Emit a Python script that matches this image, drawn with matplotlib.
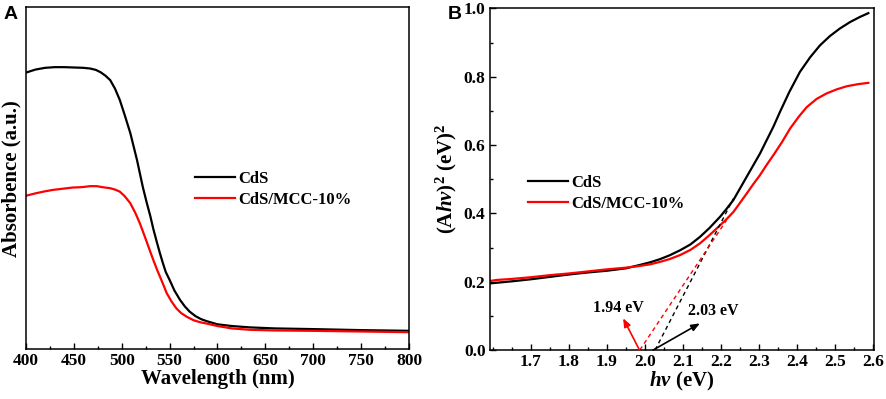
import numpy as np
import matplotlib
matplotlib.use("Agg")
import matplotlib.pyplot as plt
from matplotlib.ticker import MultipleLocator, FormatStrFormatter

plt.rcParams['font.family'] = ['Liberation Serif', 'DejaVu Serif']
plt.rcParams['font.weight'] = 'bold'
plt.rcParams['mathtext.fontset'] = 'custom'
plt.rcParams['mathtext.rm'] = 'Liberation Serif:bold'
plt.rcParams['mathtext.it'] = 'Liberation Serif:bold:italic'
plt.rcParams['mathtext.bf'] = 'Liberation Serif:bold'

# ---------------- Panel A data ----------------
wl_cds = [400, 410, 420, 430, 440, 450, 460, 467, 473, 478, 483, 488, 493, 498, 503, 509, 516, 522, 526,
          530, 533, 537, 540, 543, 546, 550, 555, 561, 566, 571, 577, 583, 589, 600, 615, 634, 660, 700,
          750, 800]
abs_cds = [0.809, 0.818, 0.823, 0.825, 0.825, 0.824, 0.823, 0.821, 0.817, 0.810, 0.800, 0.787, 0.762,
           0.729, 0.686, 0.632, 0.553, 0.475, 0.430, 0.388, 0.352, 0.310, 0.280, 0.252, 0.226, 0.203,
           0.172, 0.144, 0.125, 0.110, 0.097, 0.088, 0.082, 0.073, 0.068, 0.064, 0.061, 0.059, 0.056, 0.054]
wl_mcc = [400, 410, 420, 428, 440, 449, 458, 467, 474, 480, 488, 493, 498, 503, 509, 514, 519, 523, 526,
          530, 533, 537, 540, 544, 547, 552, 557, 562, 568, 575, 582, 589, 600, 615, 634, 660, 700, 750, 800]
abs_mcc = [0.449, 0.456, 0.462, 0.466, 0.470, 0.473, 0.474, 0.477, 0.477, 0.474, 0.471, 0.467, 0.461,
           0.448, 0.427, 0.400, 0.368, 0.338, 0.315, 0.284, 0.261, 0.232, 0.212, 0.185, 0.164, 0.140,
           0.120, 0.106, 0.095, 0.085, 0.079, 0.075, 0.068, 0.061, 0.057, 0.055, 0.054, 0.052, 0.050]

# ---------------- Panel B data ----------------
hv_cds = [1.593, 1.65, 1.7, 1.75, 1.8, 1.85, 1.9, 1.95, 1.987, 2.015, 2.04, 2.065, 2.093, 2.12, 2.145,
          2.17, 2.198, 2.215, 2.233, 2.25, 2.268, 2.285, 2.303, 2.32, 2.338, 2.356, 2.38, 2.408, 2.435,
          2.461, 2.487, 2.513, 2.54, 2.566, 2.588]
tauc_cds = [0.195, 0.201, 0.207, 0.214, 0.221, 0.227, 0.232, 0.239, 0.249, 0.257, 0.266, 0.277, 0.292,
            0.309, 0.331, 0.357, 0.390, 0.413, 0.439, 0.472, 0.507, 0.540, 0.575, 0.613, 0.653, 0.698,
            0.755, 0.814, 0.857, 0.892, 0.919, 0.941, 0.960, 0.975, 0.986]
hv_mcc = [1.593, 1.61, 1.65, 1.7, 1.75, 1.8, 1.85, 1.9, 1.95, 1.987, 2.015, 2.04, 2.065, 2.093, 2.12,
          2.145, 2.17, 2.198, 2.215, 2.233, 2.25, 2.268, 2.285, 2.303, 2.32, 2.338, 2.36, 2.382, 2.405,
          2.426, 2.452, 2.478, 2.505, 2.531, 2.56, 2.588]
tauc_mcc = [0.202, 0.205, 0.208, 0.213, 0.219, 0.224, 0.230, 0.236, 0.241, 0.246, 0.251, 0.258, 0.266,
            0.278, 0.293, 0.312, 0.336, 0.365, 0.383, 0.404, 0.430, 0.458, 0.485, 0.512, 0.541, 0.570,
            0.607, 0.648, 0.683, 0.711, 0.735, 0.751, 0.763, 0.772, 0.778, 0.782]

# tangent (extrapolation) lines
tan_cds_x = [2.027, 2.233]
tan_cds_y = [0.0, 0.443]
tan_mcc_x = [1.987, 2.215]
tan_mcc_y = [0.0, 0.38]

labels = ['CdS', 'CdS/MCC-10%']
gap_labels = ['1.94 eV', '2.03 eV']

fig = plt.figure(figsize=(8.86, 3.99), dpi=100)
axA = fig.add_axes([0.0293, 0.1246, 0.4323, 0.8571])
axB = fig.add_axes([0.5527, 0.1228, 0.4338, 0.8562])

lw = 1.6
for ax in (axA, axB):
    for s in ax.spines.values():
        s.set_linewidth(1.1)

TICK_FS = 12.5
LAB_FS = 15
LEG_FS = 12

# Panel A
axA.plot(wl_cds, abs_cds, color='black', lw=lw, label=labels[0])
axA.plot(wl_mcc, abs_mcc, color='#ff0000', lw=lw, label=labels[1])
axA.set_xlim(400, 800)
axA.set_ylim(0, 1)
axA.set_yticks([])
axA.xaxis.set_major_locator(MultipleLocator(50))
axA.xaxis.set_minor_locator(MultipleLocator(25))
axA.tick_params(axis='x', which='major', direction='in', length=4, width=1.0, labelsize=TICK_FS, pad=3)
axA.tick_params(axis='x', which='minor', direction='in', length=2.5, width=1.0)
axA.set_xlabel('Wavelength (nm)', fontsize=LAB_FS, fontweight='bold', labelpad=0)
axA.set_ylabel('Absorbence (a.u.)', fontsize=LAB_FS, fontweight='bold', labelpad=3)
legA = axA.legend(loc='center left', bbox_to_anchor=(0.441, 0.467), frameon=False, fontsize=LEG_FS,
                  handlelength=2.4, handletextpad=0.2, labelspacing=0.3, borderpad=0, borderaxespad=0)
for t in legA.get_texts():
    t.set_fontweight('bold')

# Panel B
axB.plot(hv_cds, tauc_cds, color='black', lw=lw, label=labels[0])
axB.plot(hv_mcc, tauc_mcc, color='#ff0000', lw=lw, label=labels[1])
axB.plot(tan_cds_x, tan_cds_y, color='black', lw=1.0, ls=(0, (3, 2.5)))
axB.plot(tan_mcc_x, tan_mcc_y, color='#ff0000', lw=1.0, ls=(0, (3, 2.5)))
axB.annotate('', xy=(1.943, 0.093), xytext=(1.986, 0.0),
             arrowprops=dict(arrowstyle='-|>,head_length=0.5,head_width=0.2', color='#ff0000', lw=1.2,
                             shrinkA=0, shrinkB=0))
axB.annotate('', xy=(2.145, 0.078), xytext=(2.022, 0.0),
             arrowprops=dict(arrowstyle='-|>,head_length=0.5,head_width=0.2', color='black', lw=1.2,
                             shrinkA=0, shrinkB=0))
axB.text(1.930, 0.124, gap_labels[0], fontsize=11.5, fontweight='bold', ha='center', va='center')
axB.text(2.180, 0.115, gap_labels[1], fontsize=11.5, fontweight='bold', ha='center', va='center')
axB.set_xlim(1.592, 2.603)
axB.set_ylim(0, 1.0)
axB.set_xticks(np.round(np.arange(1.7, 2.61, 0.1), 1))
axB.xaxis.set_minor_locator(MultipleLocator(0.05))
axB.yaxis.set_major_locator(MultipleLocator(0.2))
axB.yaxis.set_minor_locator(MultipleLocator(0.1))
axB.xaxis.set_major_formatter(FormatStrFormatter('%.1f'))
axB.yaxis.set_major_formatter(FormatStrFormatter('%.1f'))
axB.tick_params(which='major', direction='in', length=4, width=1.0, labelsize=TICK_FS, pad=3)
axB.tick_params(which='minor', direction='in', length=2.5, width=1.0)
axB.set_xlabel(r'$\mathit{hv}$ (eV)', fontsize=LAB_FS, fontweight='bold', labelpad=0)
axB.set_ylabel(r'$(\mathrm{A}\mathit{hv})^2\ (\mathrm{eV})^2$', fontsize=LAB_FS, labelpad=3)
legB = axB.legend(loc='center left', bbox_to_anchor=(0.0997, 0.459), frameon=False, fontsize=LEG_FS,
                  handlelength=2.4, handletextpad=0.2, labelspacing=0.3, borderpad=0, borderaxespad=0)
for t in legB.get_texts():
    t.set_fontweight('bold')

fig.text(0.004, 0.985, 'A', fontsize=14, fontweight='bold', family='Liberation Sans', va='top', ha='left')
fig.text(0.505, 0.985, 'B', fontsize=14, fontweight='bold', family='Liberation Sans', va='top', ha='left')

fig.savefig('out.png', dpi=100)
